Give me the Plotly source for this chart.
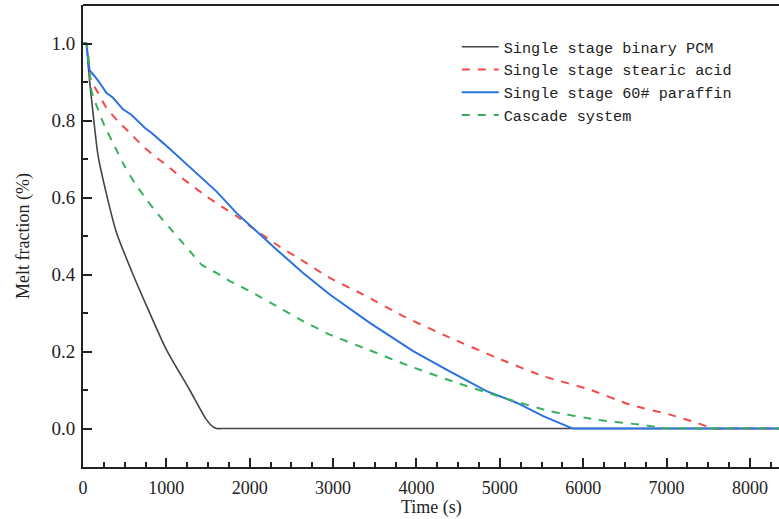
import plotly.graph_objects as go

# ---- data ----
t_binary = [0, 40, 60, 80, 100, 120, 180, 280, 400, 600, 780, 1000, 1280, 1480, 1560, 1600, 1700, 1900, 8400]
y_binary = [1.0, 1.0, 0.95, 0.90, 0.86, 0.82, 0.71, 0.61, 0.51, 0.40, 0.31, 0.205, 0.10, 0.023, 0.004, 0.0, 0.0, 0.0, 0.0]

t_stearic = [0, 40, 80, 100, 180, 280, 420, 560, 720, 860, 1020, 1160, 1320, 1480, 1660, 1840, 2000,
             2320, 2640, 2960, 3360, 3840, 4400, 4960, 5520, 6080, 6560, 7040, 7360, 7560, 7700, 7900, 8400]
y_stearic = [1.0, 1.0, 0.915, 0.902, 0.872, 0.833, 0.798, 0.768, 0.733, 0.707, 0.681, 0.655, 0.629, 0.603,
             0.577, 0.552, 0.526, 0.478, 0.435, 0.391, 0.348, 0.292, 0.236, 0.184, 0.136, 0.101, 0.062,
             0.036, 0.015, 0.0, 0.0, 0.0, 0.0]

t_paraffin = [0, 40, 60, 80, 140, 200, 280, 360, 480, 580, 740, 820, 980, 1160, 1400, 1600, 1840, 2100,
              2320, 2640, 2960, 3440, 3960, 4360, 4840, 5200, 5520, 5840, 5880, 8400]
y_paraffin = [1.0, 1.0, 0.958, 0.93, 0.915, 0.898, 0.872, 0.859, 0.829, 0.815, 0.781, 0.768, 0.738, 0.703,
              0.655, 0.616, 0.560, 0.508, 0.465, 0.404, 0.348, 0.2745, 0.201, 0.153, 0.097, 0.067, 0.032,
              0.003, 0.0, 0.0]

t_cascade = [0, 40, 100, 120, 180, 260, 380, 500, 620, 760, 900, 1040, 1160, 1280, 1420, 1520, 1600, 1760,
             2000, 2320, 2640, 2960, 3360, 3920, 4480, 5040, 5600, 6160, 6680, 6920, 7000, 7150, 7400, 8400]
y_cascade = [1.0, 1.0, 0.88, 0.863, 0.829, 0.785, 0.733, 0.681, 0.638, 0.595, 0.556, 0.521, 0.491, 0.461,
             0.426, 0.413, 0.404, 0.383, 0.357, 0.318, 0.279, 0.244, 0.21, 0.162, 0.119, 0.080, 0.045,
             0.023, 0.010, 0.003, 0.0, 0.0, 0.0, 0.0]

names = ["Single stage binary PCM", "Single stage stearic acid", "Single stage 60# paraffin", "Cascade system"]
y_tickvals = [0.0, 0.2, 0.4, 0.6, 0.8, 1.0]
y_ticktext = ["0.0", "0.2", "0.4", "0.6", "0.8", "1.0"]
x_tickvals = [0, 1000, 2000, 3000, 4000, 5000, 6000, 7000, 8000]
x_title = "Time (s)"
y_title = "Melt fraction (%)"

INK = "#222222"
fig = go.Figure()
fig.add_trace(go.Scatter(x=t_binary, y=y_binary, mode="lines", name=names[0],
                         line=dict(color="#444444", width=1.6, shape="spline", smoothing=0.7)))
fig.add_trace(go.Scatter(x=t_stearic, y=y_stearic, mode="lines", name=names[1],
                         line=dict(color="#f24a4a", width=2, dash="8px,8px", shape="spline", smoothing=0.5)))
fig.add_trace(go.Scatter(x=t_paraffin, y=y_paraffin, mode="lines", name=names[2],
                         line=dict(color="#2a72e0", width=2)))
fig.add_trace(go.Scatter(x=t_cascade, y=y_cascade, mode="lines", name=names[3],
                         line=dict(color="#38b05f", width=2, dash="8px,8px", shape="spline", smoothing=0.5)))

axis_common = dict(showgrid=False, zeroline=False, showline=True, linecolor=INK, linewidth=2,
                   ticks="inside", tickcolor=INK, tickwidth=1.5, ticklen=9, automargin=False)

fig.update_layout(
    width=779, height=519,
    margin=dict(l=83, r=0, t=5, b=52),
    paper_bgcolor="white", plot_bgcolor="white",
    showlegend=True,
    legend=dict(x=0.537, y=0.945, xanchor="left", yanchor="top", itemwidth=37,
                font=dict(family="Liberation Mono", size=15.2, color=INK),
                bgcolor="rgba(0,0,0,0)", tracegroupgap=0),
    xaxis=dict(range=[0, 8348], tickvals=x_tickvals, ticklabelstandoff=3,
               tickfont=dict(family="Liberation Serif", size=18, color=INK),
               minor=dict(ticks="inside", ticklen=5, tickwidth=1.5, tickcolor=INK, dtick=250),
               **axis_common),
    yaxis=dict(range=[-0.1, 1.1], tickvals=y_tickvals, ticktext=y_ticktext, ticklabelstandoff=2,
               tickfont=dict(family="Liberation Serif", size=19, color=INK),
               minor=dict(ticks="inside", ticklen=5, tickwidth=1.5, tickcolor=INK, dtick=0.1, tick0=0),
               **axis_common),
)

# axis titles
fig.add_annotation(text=x_title, xref="paper", yref="paper", x=0.5, y=-0.0866,
                   xanchor="center", yanchor="middle", showarrow=False,
                   font=dict(family="Liberation Serif", size=18, color=INK))
fig.add_annotation(text=y_title, xref="paper", yref="paper", x=-0.0862, y=0.5,
                   xanchor="center", yanchor="middle", showarrow=False, textangle=-90,
                   font=dict(family="Liberation Serif", size=18, color=INK))

# top border line (no ticks)
fig.add_shape(type="line", xref="paper", yref="paper", x0=0, x1=1, y0=1, y1=1,
              line=dict(color=INK, width=2))

fig.write_html("out.html", config={"displayModeBar": False},
               post_script="document.body.style.margin='0';document.body.style.overflow='hidden';")
